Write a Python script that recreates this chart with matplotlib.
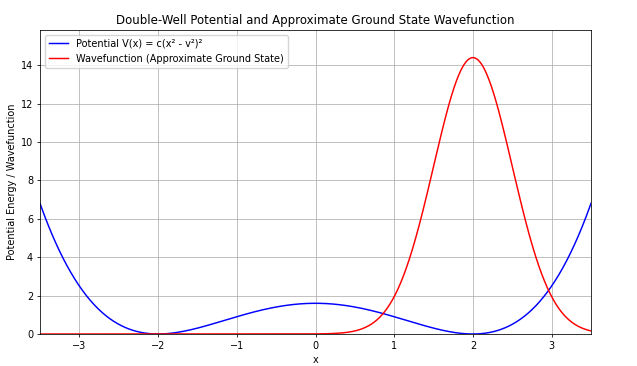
import numpy as np
import matplotlib
matplotlib.use("Agg")
import matplotlib.pyplot as plt

# Parameters
c = 0.1          # V(0) = c*v^4 = 1.6
v = 2.0          # wells at x = ±2
psi_amp = 14.4   # peak height of wavefunction
psi_center = 2.0
psi_a = 2.0      # Gaussian width parameter
x_min, x_max = -3.5, 3.5

x = np.linspace(x_min, x_max, 1000)
V = c * (x**2 - v**2) ** 2
psi = psi_amp * np.exp(-psi_a * (x - psi_center) ** 2)

s = 0.705
fig = plt.figure(figsize=(6.37, 3.66), dpi=100)
ax = fig.add_axes([40/637, 32/366, 551/637, 304/366])
ax.plot(x, V, color="blue", lw=1.5*s, label="Potential V(x) = c(x² - v²)²")
ax.plot(x, psi, color="red", lw=1.5*s, label="Wavefunction (Approximate Ground State)")
ax.set_xlim(x_min, x_max)
ax.set_ylim(0, max(V.max(), psi.max()) * 1.1)
ax.set_title("Double-Well Potential and Approximate Ground State Wavefunction",
             fontsize=12*s, pad=6*s)
ax.set_xlabel("x", fontsize=10*s, labelpad=4*s)
ax.set_ylabel("Potential Energy / Wavefunction", fontsize=10*s, labelpad=4*s)
ax.tick_params(labelsize=10*s, length=3.5*s, width=0.8*s, pad=3.5*s)
for sp in ax.spines.values():
    sp.set_linewidth(0.8*s)
ax.grid(True, color="#b0b0b0", lw=0.8*s)
ax.legend(loc="upper left", fontsize=10*s)
fig.savefig("out.png", dpi=100)
